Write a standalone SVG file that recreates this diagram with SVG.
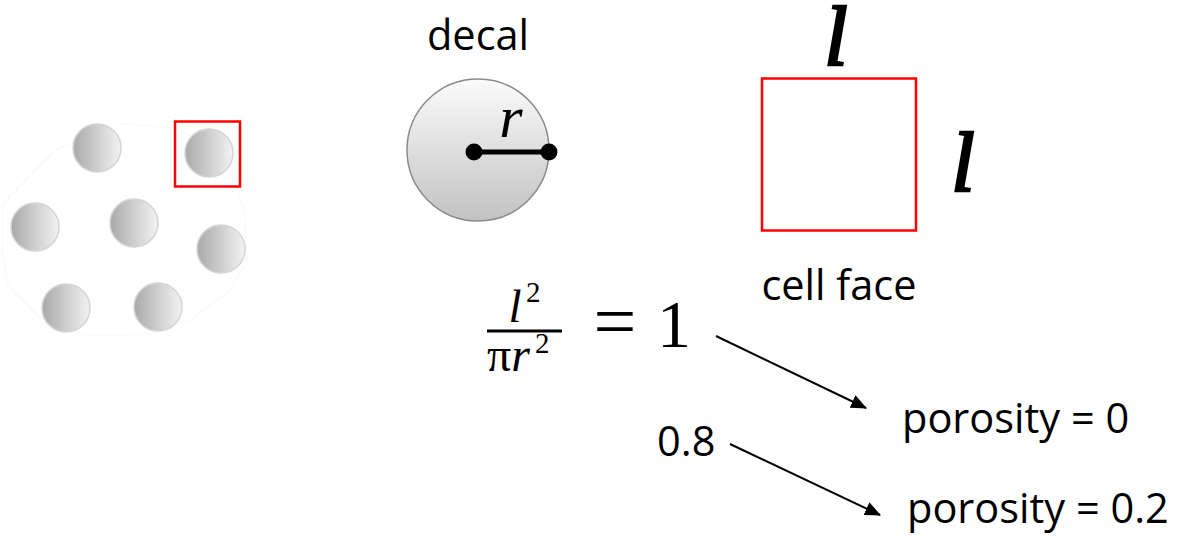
<svg xmlns="http://www.w3.org/2000/svg" width="1177" height="536" viewBox="0 0 1177 536">
<style>
.lbl{font-family:"Open Sans","Liberation Sans",sans-serif;font-size:41.5px;fill:#000}
.math{font-family:"Liberation Serif","Times New Roman",serif;fill:#000}
.ell{font-family:"Liberation Serif","Times New Roman",serif;font-style:italic;font-size:84px;fill:#000;stroke:#000;stroke-width:2.6}
.sph{fill:url(#sg);stroke:#d4d4d4;stroke-width:1.5}
.conn{stroke:#000;stroke-width:2;fill:none;marker-end:url(#ah)}
</style>
<defs>
<linearGradient id="sg" x1="0" y1="0" x2="1" y2="0">
<stop offset="0" stop-color="#a9a9a9"/>
<stop offset="1" stop-color="#f3f3f3"/>
</linearGradient>
<linearGradient id="dg" x1="0" y1="0" x2="0" y2="1">
<stop offset="0" stop-color="#fbfbfb"/>
<stop offset="1" stop-color="#c2c2c2"/>
</linearGradient>
<marker id="ah" viewBox="0 0 16 14" refX="15" refY="7" markerWidth="16" markerHeight="14" markerUnits="userSpaceOnUse" orient="auto">
<path d="M0,0 L16,7 L0,14 Z" fill="#000"/>
</marker>
</defs>
<rect width="1177" height="536" fill="#fff"/>

<g id="particles">
<path d="M2,205 L55,150 L120,124 L175,128 L222,150 L244,210 L247,262 L228,292 L190,320 L150,334 L90,336 L40,318 L8,285 L2,250 Z" fill="none" stroke="#f8f8f8" stroke-width="1.2"/>
<circle class="sph" cx="97" cy="148" r="24"/>
<circle class="sph" cx="209" cy="153" r="24"/>
<circle class="sph" cx="35" cy="227" r="24"/>
<circle class="sph" cx="134" cy="223" r="24"/>
<circle class="sph" cx="221" cy="249" r="24"/>
<circle class="sph" cx="66" cy="308" r="24"/>
<circle class="sph" cx="158" cy="307" r="24"/>
<rect x="175" y="121.5" width="65" height="65" fill="none" stroke="#ff0000" stroke-width="2.5"/>
</g>

<g id="decal">
<text class="lbl" x="478" y="50" text-anchor="middle">decal</text>
<circle cx="478" cy="150" r="71" fill="url(#dg)" stroke="#8a8a8a" stroke-width="1.5"/>
<line x1="474" y1="152" x2="549" y2="152" stroke="#000" stroke-width="5"/>
<circle cx="474" cy="152" r="8.5" fill="#000"/>
<circle cx="549" cy="152" r="8.5" fill="#000"/>
<text class="math" x="511" y="137" font-size="60" font-style="italic" text-anchor="middle">r</text>
</g>

<g id="cell-face">
<text class="ell" x="836" y="65" text-anchor="middle">l</text>
<rect x="762" y="78.5" width="154" height="152" fill="none" stroke="#ff0000" stroke-width="2.5"/>
<text class="ell" x="963" y="191" text-anchor="middle">l</text>
<text class="lbl" x="839" y="300" text-anchor="middle">cell face</text>
</g>

<g id="formula">
<text class="math" x="515" y="322" font-size="47" font-style="italic" text-anchor="middle">l</text>
<text class="math" x="526" y="302" font-size="29">2</text>
<line x1="487" y1="331" x2="562" y2="331" stroke="#000" stroke-width="3"/>
<text class="math" x="487" y="371" font-size="48">π<tspan font-style="italic">r</tspan></text>
<text class="math" x="535" y="353" font-size="29">2</text>
<text class="math" x="615" y="347" font-size="76" text-anchor="middle">=</text>
<text class="math" x="674" y="347" font-size="68" text-anchor="middle">1</text>
</g>

<g id="result-0">
<text class="lbl" x="902" y="433">porosity = 0</text>
</g>
<g id="value-08">
<text class="lbl" x="657" y="456">0.8</text>
</g>
<g id="result-02">
<text class="lbl" x="907" y="523">porosity = 0.2</text>
</g>

<g id="connectors">
<line class="conn" x1="716" y1="336" x2="866" y2="408"/>
<line class="conn" x1="730" y1="444" x2="880" y2="515"/>
</g>
</svg>
